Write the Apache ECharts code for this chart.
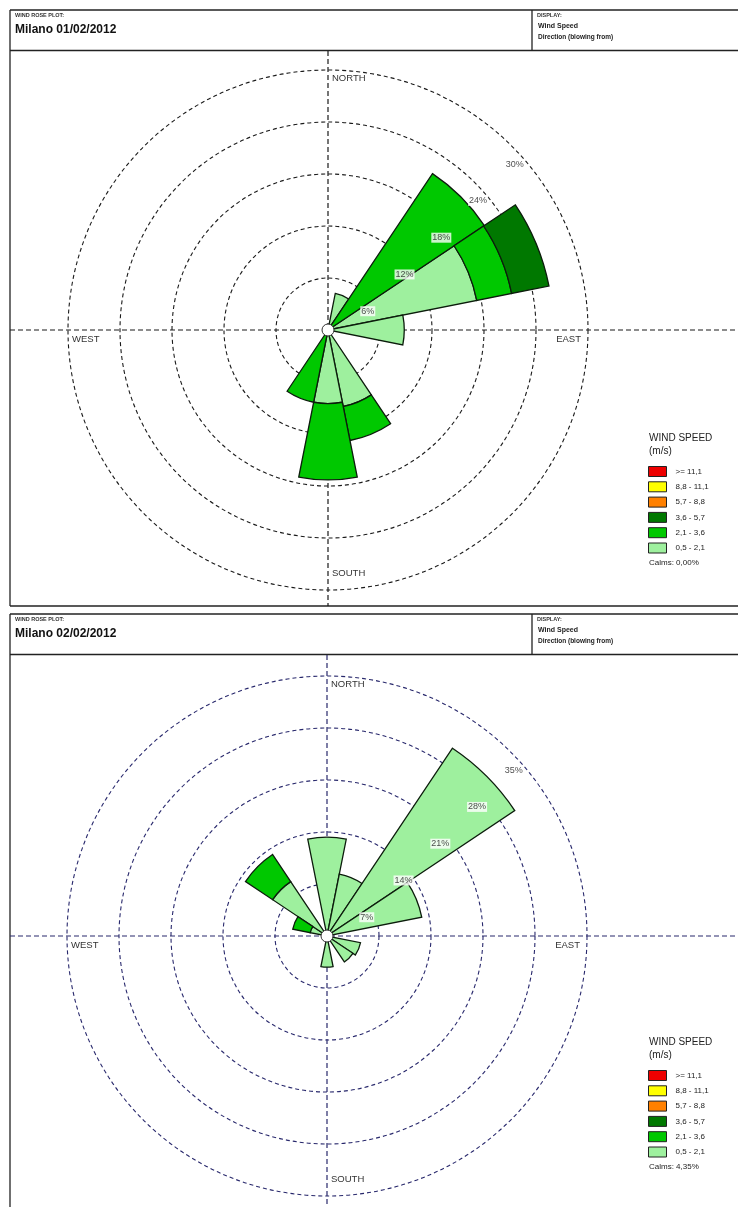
<!DOCTYPE html>
<html>
<head>
<meta charset="utf-8">
<title>Wind rose - Milano</title>
<script src="https://cdn.jsdelivr.net/npm/echarts@6/dist/echarts.min.js"></script>
<style>
  html, body { margin: 0; padding: 0; background: #fff; }
  #chart { width: 738px; height: 1207px; }
</style>
</head>
<body>
<div id="chart"></div>
<script>
const directions = ['N', 'NNE', 'NE', 'ENE', 'E', 'ESE', 'SE', 'SSE', 'S', 'SSW', 'SW', 'WSW', 'W', 'WNW', 'NW', 'NNW'];
const speedClasses = ['0,5 - 2,1', '2,1 - 3,6', '3,6 - 5,7', '5,7 - 8,8', '8,8 - 11,1', '>= 11,1'];
const speedColors = ['#9ef09e', '#00c800', '#007800', '#ff8000', '#ffff00', '#ee0000'];

// 01/02/2012, % of hours per direction and speed class
const day1Speed1 = [0, 4.3, 0, 17.5, 8.8, 0, 0, 9.0, 8.5, 0, 0, 0, 0, 0, 0, 0];
const day1Speed2 = [0, 0, 21.7, 4.1, 0, 0, 0, 4.0, 8.8, 8.5, 0, 0, 0, 0, 0, 0];
const day1Speed3 = [0, 0, 0, 4.4, 0, 0, 0, 0, 0, 0, 0, 0, 0, 0, 0, 0];
const day1Speed4 = [0, 0, 0, 0, 0, 0, 0, 0, 0, 0, 0, 0, 0, 0, 0, 0];
const day1Speed5 = [0, 0, 0, 0, 0, 0, 0, 0, 0, 0, 0, 0, 0, 0, 0, 0];
const day1Speed6 = [0, 0, 0, 0, 0, 0, 0, 0, 0, 0, 0, 0, 0, 0, 0, 0];
const day1Rings = [6, 12, 18, 24, 30];
const day1Calms = 'Calms: 0,00%';

// 02/02/2012
const day2Speed1 = [13.3, 8.5, 30.4, 13.0, 0, 4.6, 4.2, 0, 4.2, 0, 0, 0, 0, 2.3, 8.8, 0];
const day2Speed2 = [0, 0, 0, 0, 0, 0, 0, 0, 0, 0, 0, 0, 0, 2.4, 4.4, 0];
const day2Speed3 = [0, 0, 0, 0, 0, 0, 0, 0, 0, 0, 0, 0, 0, 0, 0, 0];
const day2Speed4 = [0, 0, 0, 0, 0, 0, 0, 0, 0, 0, 0, 0, 0, 0, 0, 0];
const day2Speed5 = [0, 0, 0, 0, 0, 0, 0, 0, 0, 0, 0, 0, 0, 0, 0, 0];
const day2Speed6 = [0, 0, 0, 0, 0, 0, 0, 0, 0, 0, 0, 0, 0, 0, 0, 0];
const day2Rings = [7, 14, 21, 28, 35];
const day2Calms = 'Calms: 4,35%';

const FONT = '"Liberation Sans", Arial, sans-serif';

const panels = [
  { title: 'Milano 01/02/2012', top: 10, bottom: 606, cx: 328, cy: 330, legendTop: 466,
    classes: [day1Speed1, day1Speed2, day1Speed3, day1Speed4, day1Speed5, day1Speed6],
    rings: day1Rings, calms: day1Calms, lineColor: '#1a1a1a' },
  { title: 'Milano 02/02/2012', top: 614, bottom: 1207, cx: 327, cy: 936, legendTop: 1070,
    classes: [day2Speed1, day2Speed2, day2Speed3, day2Speed4, day2Speed5, day2Speed6],
    rings: day2Rings, calms: day2Calms, lineColor: '#28286c' }
];

const chart = echarts.init(document.getElementById('chart'));

function txt(x, y, text, size, opts) {
  opts = opts || {};
  return {
    type: 'text', x: x, y: y, z: 50,
    style: {
      text: text,
      font: (opts.weight || 'normal') + ' ' + size + 'px ' + FONT,
      fill: opts.color || '#222',
      align: opts.align || 'left',
      verticalAlign: 'middle'
    }
  };
}
function line(x1, y1, x2, y2, color, dash, width) {
  return {
    type: 'line', z: 1,
    shape: { x1: x1, y1: y1, x2: x2, y2: y2 },
    style: { stroke: color, lineWidth: width || 1.3, lineDash: dash || null }
  };
}

let series = [];
let graphics = [];
panels.forEach(function (p, i) {
  p.classes.forEach(function (vals, k) {
    series.push({
      type: 'bar',
      name: speedClasses[k],
      coordinateSystem: 'polar',
      polarIndex: i,
      stack: 'rose' + i,
      // empty classes are left out so no zero-size sectors get stroked
      data: vals.map(function (v) { return v > 0 ? v : '-'; }),
      barCategoryGap: '0%',
      itemStyle: { color: speedColors[k], borderColor: '#0c1c0c', borderWidth: 1.3 },
      z: 3,
      silent: true
    });
  });
  // ring percentage labels along the NE direction
  series.push({
    type: 'scatter',
    coordinateSystem: 'polar',
    polarIndex: i,
    symbolSize: 1,
    itemStyle: { color: 'rgba(0,0,0,0)' },
    data: p.rings.map(function (r) { return [r, 'NE']; }),
    label: {
      show: true, position: 'inside', offset: [3, 18],
      formatter: function (q) { return q.value[0] + '%'; },
      backgroundColor: '#fff', padding: [1, 1, 0, 1],
      fontSize: 9, fontFamily: FONT, color: '#222'
    },
    z: 6,
    silent: true
  });

  const t = p.top;
  const dash = [5, 3];
  // frame and header
  graphics.push(line(10, t, 738, t, '#222'));
  graphics.push(line(10, t + 40.5, 738, t + 40.5, '#222'));
  graphics.push(line(10, t, 10, p.bottom, '#222'));
  graphics.push(line(532, t, 532, t + 40.5, '#222'));
  if (i === 0) graphics.push(line(10, p.bottom, 738, p.bottom, '#222'));
  graphics.push(txt(15, t + 5, 'WIND ROSE PLOT:', 5.5, { weight: 'bold', color: '#333' }));
  graphics.push(txt(15, t + 20, p.title, 12, { weight: 'bold', color: '#111' }));
  graphics.push(txt(537, t + 5, 'DISPLAY:', 5.5, { weight: 'bold', color: '#333' }));
  graphics.push(txt(538, t + 16.5, 'Wind Speed', 7, { weight: 'bold', color: '#222' }));
  graphics.push(txt(538, t + 27.5, 'Direction (blowing from)', 6.5, { weight: 'bold', color: '#222' }));

  // compass cross
  graphics.push(line(p.cx, t + 41, p.cx, p.bottom, p.lineColor, dash, 1.2));
  graphics.push(line(10, p.cy, 738, p.cy, p.lineColor, dash, 1.2));
  graphics.push(txt(p.cx + 4, p.cy - 252, 'NORTH', 9.5, { color: '#333' }));
  graphics.push(txt(p.cx + 4, p.cy + 243, 'SOUTH', 9.5, { color: '#333' }));
  graphics.push(txt(p.cx - 256, p.cy + 9, 'WEST', 9.5, { color: '#333' }));
  graphics.push(txt(p.cx + 253, p.cy + 9, 'EAST', 9.5, { color: '#333', align: 'right' }));
  graphics.push({
    type: 'circle', z: 100,
    shape: { cx: p.cx, cy: p.cy, r: 6 },
    style: { fill: '#fff', stroke: '#333', lineWidth: 1 }
  });

  // legend title and calms
  graphics.push(txt(649, p.legendTop - 28, 'WIND SPEED', 10, { color: '#222' }));
  graphics.push(txt(649, p.legendTop - 15, '(m/s)', 10, { color: '#222' }));
  graphics.push(txt(649, p.legendTop + 97, p.calms, 8, { color: '#222' }));
});

const option = {
  animation: false,
  polar: panels.map(function (p) { return { center: [p.cx, p.cy], radius: 260 }; }),
  angleAxis: panels.map(function (p, i) {
    return {
      polarIndex: i, type: 'category', data: directions,
      startAngle: 101.25, clockwise: true, boundaryGap: true,
      axisLine: { show: false }, axisTick: { show: false },
      axisLabel: { show: false }, splitLine: { show: false }
    };
  }),
  radiusAxis: panels.map(function (p, i) {
    return {
      polarIndex: i, type: 'value', min: 0,
      max: p.rings[p.rings.length - 1], interval: p.rings[0],
      axisLine: { show: false }, axisTick: { show: false }, axisLabel: { show: false },
      splitLine: { show: true, lineStyle: { type: [4, 3], color: p.lineColor, width: 1.1 } }
    };
  }),
  legend: panels.map(function (p) {
    return {
      orient: 'vertical', left: 648, top: p.legendTop, padding: 0,
      data: speedClasses.slice().reverse(),
      icon: 'rect', itemWidth: 18, itemHeight: 10, itemGap: 4.3,
      selectedMode: false,
      itemStyle: { borderColor: '#222', borderWidth: 1 },
      textStyle: { fontSize: 8, fontFamily: FONT, color: '#222', padding: [0, 0, 0, 4] }
    };
  }),
  graphic: { elements: graphics },
  series: series
};

chart.setOption(option);
</script>
</body>
</html>
